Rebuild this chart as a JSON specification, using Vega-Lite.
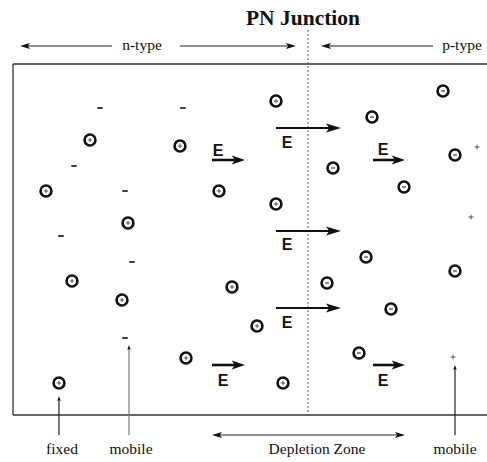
{
  "$schema": "https://vega.github.io/schema/vega-lite/v6.json",
  "width": 487,
  "height": 462,
  "autosize": {"type": "none"},
  "padding": 0,
  "background": "white",
  "config": {"view": {"stroke": null}},
  "datasets": {
    "lines": [
      {"grp": "box", "x": 13, "y": 64, "x2": 487, "y2": 64},
      {"grp": "box", "x": 13, "y": 64, "x2": 13, "y2": 415},
      {"grp": "box", "x": 13, "y": 415, "x2": 487, "y2": 415},
      {"grp": "dot", "x": 308, "y": 30, "x2": 308, "y2": 415},
      {"grp": "thin", "x": 24, "y": 46, "x2": 112, "y2": 46},
      {"grp": "thin", "x": 180, "y": 46, "x2": 290, "y2": 46},
      {"grp": "thin", "x": 327, "y": 46, "x2": 433, "y2": 46},
      {"grp": "thin", "x": 59, "y": 435, "x2": 59, "y2": 400},
      {"grp": "gray", "x": 129, "y": 435, "x2": 129, "y2": 349},
      {"grp": "thin", "x": 455, "y": 435, "x2": 455, "y2": 369},
      {"grp": "thin", "x": 216, "y": 435, "x2": 400, "y2": 435},
      {"grp": "long", "x": 276, "y": 128, "x2": 330, "y2": 128},
      {"grp": "long", "x": 276, "y": 231, "x2": 330, "y2": 231},
      {"grp": "long", "x": 276, "y": 308, "x2": 330, "y2": 308},
      {"grp": "short", "x": 212, "y": 160, "x2": 236, "y2": 160},
      {"grp": "short", "x": 373, "y": 160, "x2": 397, "y2": 160},
      {"grp": "short", "x": 212, "y": 365, "x2": 236, "y2": 365},
      {"grp": "short", "x": 373, "y": 365, "x2": 397, "y2": 365}
    ],
    "heads": [
      {"x": 20, "y": 46, "dir": "left", "kind": "thin"},
      {"x": 296, "y": 46, "dir": "right", "kind": "thin"},
      {"x": 321, "y": 46, "dir": "left", "kind": "thin"},
      {"x": 212, "y": 435, "dir": "left", "kind": "thin"},
      {"x": 405, "y": 435, "dir": "right", "kind": "thin"},
      {"x": 59, "y": 396, "dir": "up", "kind": "tiny"},
      {"x": 129, "y": 345, "dir": "up", "kind": "tiny"},
      {"x": 455, "y": 365, "dir": "up", "kind": "tiny"},
      {"x": 341, "y": 128, "dir": "right", "kind": "long"},
      {"x": 341, "y": 231, "dir": "right", "kind": "long"},
      {"x": 341, "y": 308, "dir": "right", "kind": "long"},
      {"x": 245, "y": 160, "dir": "right", "kind": "short"},
      {"x": 405, "y": 160, "dir": "right", "kind": "short"},
      {"x": 245, "y": 365, "dir": "right", "kind": "short"},
      {"x": 405, "y": 365, "dir": "right", "kind": "short"}
    ],
    "ions": [
      {"x": 90, "y": 140, "sign": "+"},
      {"x": 180, "y": 146, "sign": "+"},
      {"x": 46, "y": 191, "sign": "+"},
      {"x": 128, "y": 223, "sign": "+"},
      {"x": 219, "y": 191, "sign": "+"},
      {"x": 276, "y": 101, "sign": "+"},
      {"x": 276, "y": 204, "sign": "+"},
      {"x": 72, "y": 281, "sign": "+"},
      {"x": 122, "y": 300, "sign": "+"},
      {"x": 232, "y": 287, "sign": "+"},
      {"x": 257, "y": 326, "sign": "+"},
      {"x": 186, "y": 358, "sign": "+"},
      {"x": 59, "y": 383, "sign": "+"},
      {"x": 283, "y": 383, "sign": "+"},
      {"x": 443, "y": 91, "sign": "-"},
      {"x": 372, "y": 117, "sign": "-"},
      {"x": 333, "y": 168, "sign": "-"},
      {"x": 455, "y": 155, "sign": "-"},
      {"x": 404, "y": 187, "sign": "-"},
      {"x": 366, "y": 257, "sign": "-"},
      {"x": 327, "y": 283, "sign": "-"},
      {"x": 455, "y": 271, "sign": "-"},
      {"x": 391, "y": 309, "sign": "-"},
      {"x": 359, "y": 353, "sign": "-"}
    ],
    "carriers": [
      {"x": 100, "y": 108, "sign": "-"},
      {"x": 183, "y": 108, "sign": "-"},
      {"x": 74, "y": 166, "sign": "-"},
      {"x": 125, "y": 191, "sign": "-"},
      {"x": 61, "y": 236, "sign": "-"},
      {"x": 132, "y": 262, "sign": "-"},
      {"x": 125, "y": 338, "sign": "-"},
      {"x": 477, "y": 147, "sign": "+"},
      {"x": 471, "y": 217, "sign": "+"},
      {"x": 453, "y": 357, "sign": "+"}
    ],
    "elabels": [
      {"x": 287, "y": 143, "label": "E"},
      {"x": 287, "y": 245, "label": "E"},
      {"x": 287, "y": 323, "label": "E"},
      {"x": 218, "y": 151, "label": "E"},
      {"x": 383, "y": 150, "label": "E"},
      {"x": 223, "y": 381, "label": "E"},
      {"x": 383, "y": 381, "label": "E"}
    ],
    "labels": [
      {"x": 142, "y": 45, "label": "n-type"},
      {"x": 462, "y": 45, "label": "p-type"},
      {"x": 62, "y": 449, "label": "fixed"},
      {"x": 131, "y": 449, "label": "mobile"},
      {"x": 317, "y": 449, "label": "Depletion Zone"},
      {"x": 455, "y": 449, "label": "mobile"}
    ],
    "title": [
      {"x": 303, "y": 19, "label": "PN Junction"}
    ]
  },
  "encoding": {
    "x": {"field": "x", "type": "quantitative", "scale": {"domain": [0, 487], "nice": false, "zero": false}, "axis": null},
    "y": {"field": "y", "type": "quantitative", "scale": {"domain": [0, 462], "nice": false, "zero": false, "reverse": true}, "axis": null}
  },
  "layer": [
    {
      "data": {"name": "lines"},
      "transform": [{"filter": "datum.grp === 'box'"}],
      "mark": {"type": "rule", "color": "#333333", "strokeWidth": 1.3},
      "encoding": {"x2": {"field": "x2"}, "y2": {"field": "y2"}}
    },
    {
      "data": {"name": "lines"},
      "transform": [{"filter": "datum.grp === 'dot'"}],
      "mark": {"type": "rule", "color": "#555555", "strokeWidth": 1, "strokeDash": [2, 2]},
      "encoding": {"x2": {"field": "x2"}, "y2": {"field": "y2"}}
    },
    {
      "data": {"name": "lines"},
      "transform": [{"filter": "datum.grp === 'thin'"}],
      "mark": {"type": "rule", "color": "#222222", "strokeWidth": 1.2},
      "encoding": {"x2": {"field": "x2"}, "y2": {"field": "y2"}}
    },
    {
      "data": {"name": "lines"},
      "transform": [{"filter": "datum.grp === 'gray'"}],
      "mark": {"type": "rule", "color": "#777777", "strokeWidth": 1.2},
      "encoding": {"x2": {"field": "x2"}, "y2": {"field": "y2"}}
    },
    {
      "data": {"name": "lines"},
      "transform": [{"filter": "datum.grp === 'long'"}],
      "mark": {"type": "rule", "color": "#111111", "strokeWidth": 2},
      "encoding": {"x2": {"field": "x2"}, "y2": {"field": "y2"}}
    },
    {
      "data": {"name": "lines"},
      "transform": [{"filter": "datum.grp === 'short'"}],
      "mark": {"type": "rule", "color": "#111111", "strokeWidth": 2.6},
      "encoding": {"x2": {"field": "x2"}, "y2": {"field": "y2"}}
    },
    {
      "data": {"name": "heads"},
      "transform": [{"filter": "datum.kind === 'thin' && datum.dir === 'left'"}],
      "mark": {"type": "point", "shape": "M0,0L1,-0.3L0.78,0L1,0.3Z", "size": 400, "filled": true, "fill": "#111111", "stroke": null, "opacity": 1}
    },
    {
      "data": {"name": "heads"},
      "transform": [{"filter": "datum.kind === 'thin' && datum.dir === 'right'"}],
      "mark": {"type": "point", "shape": "M0,0L-1,-0.3L-0.78,0L-1,0.3Z", "size": 400, "filled": true, "fill": "#111111", "stroke": null, "opacity": 1}
    },
    {
      "data": {"name": "heads"},
      "transform": [{"filter": "datum.kind === 'tiny'"}],
      "mark": {"type": "point", "shape": "M0,0L-0.35,1L0,0.8L0.35,1Z", "size": 100, "filled": true, "fill": "#111111", "stroke": null, "opacity": 1}
    },
    {
      "data": {"name": "heads"},
      "transform": [{"filter": "datum.kind === 'long'"}],
      "mark": {"type": "point", "shape": "M0,0L-1,-0.3L-0.78,0L-1,0.3Z", "size": 900, "filled": true, "fill": "#111111", "stroke": null, "opacity": 1}
    },
    {
      "data": {"name": "heads"},
      "transform": [{"filter": "datum.kind === 'short'"}],
      "mark": {"type": "point", "shape": "M0,0L-1,-0.34L-0.78,0L-1,0.34Z", "size": 700, "filled": true, "fill": "#111111", "stroke": null, "opacity": 1}
    },
    {
      "data": {"name": "ions"},
      "mark": {"type": "point", "shape": "circle", "filled": false, "fill": null, "stroke": "#111111", "size": 118, "strokeWidth": 2.6, "opacity": 1}
    },
    {
      "data": {"name": "ions"},
      "transform": [{"filter": "datum.sign === '+'"}],
      "mark": {"type": "point", "shape": "M-1,0L1,0M0,-1L0,1", "filled": false, "fill": null, "stroke": "#333333", "size": 20, "strokeWidth": 0.8, "opacity": 1}
    },
    {
      "data": {"name": "ions"},
      "transform": [{"filter": "datum.sign === '-'"}],
      "mark": {"type": "point", "shape": "M-1,0L1,0", "filled": false, "fill": null, "stroke": "#333333", "size": 14, "strokeWidth": 1.2, "opacity": 1}
    },
    {
      "data": {"name": "carriers"},
      "transform": [{"filter": "datum.sign === '-'"}],
      "mark": {"type": "point", "shape": "M-1,0L1,0", "filled": false, "stroke": "#111111", "size": 30, "strokeWidth": 1.6, "opacity": 1}
    },
    {
      "data": {"name": "carriers"},
      "transform": [{"filter": "datum.sign === '+'"}],
      "mark": {"type": "point", "shape": "M-1,0L1,0M0,-1L0,1", "filled": false, "stroke": "#333333", "size": 25, "strokeWidth": 0.8, "opacity": 1}
    },
    {
      "data": {"name": "elabels"},
      "mark": {"type": "text", "fontSize": 16, "fontWeight": "bold", "font": "Liberation Sans", "fill": "#111111", "baseline": "middle", "align": "center"},
      "encoding": {"text": {"field": "label"}}
    },
    {
      "data": {"name": "labels"},
      "mark": {"type": "text", "fontSize": 15.5, "font": "Liberation Serif", "fill": "#111111", "baseline": "middle", "align": "center"},
      "encoding": {"text": {"field": "label"}}
    },
    {
      "data": {"name": "title"},
      "mark": {"type": "text", "fontSize": 21.5, "fontWeight": "bold", "font": "Liberation Serif", "fill": "#111111", "baseline": "middle", "align": "center"},
      "encoding": {"text": {"field": "label"}}
    }
  ]
}
